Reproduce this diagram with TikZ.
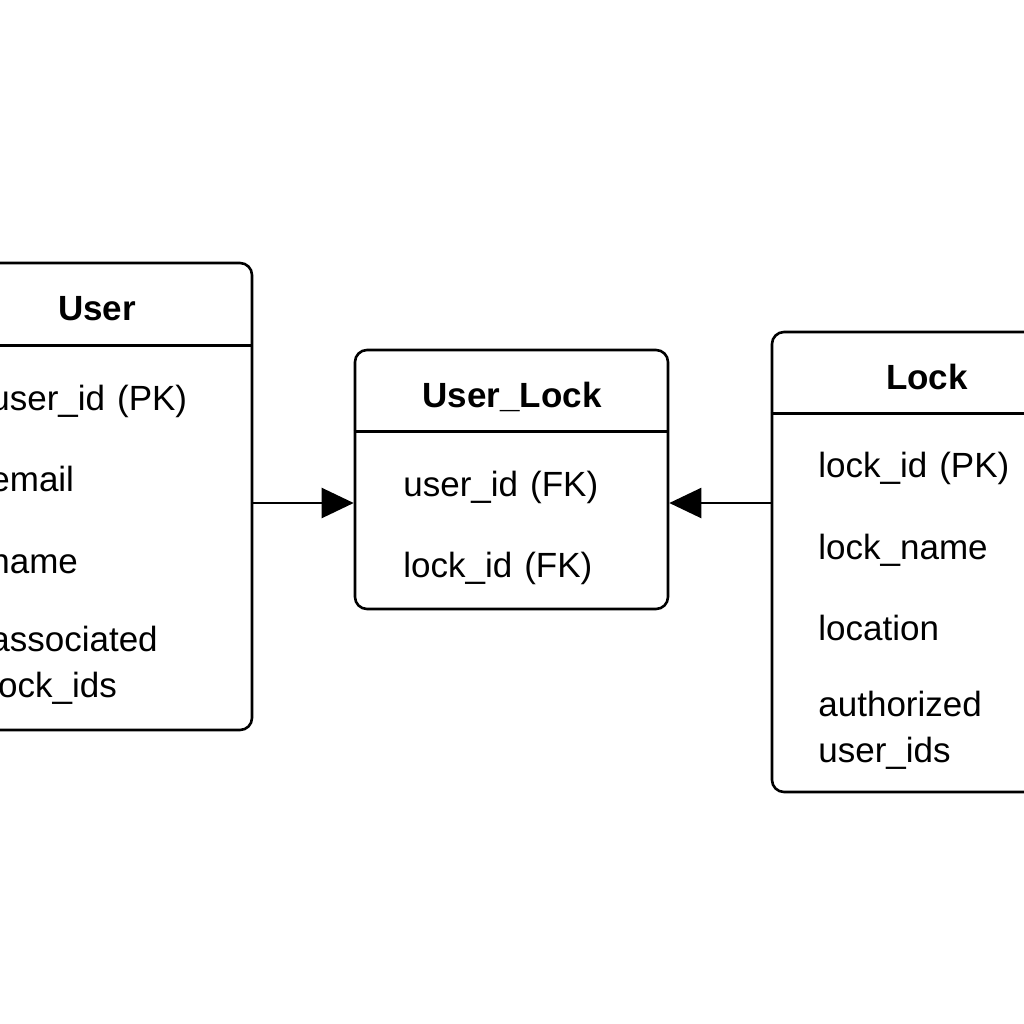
\documentclass[tikz,border=0pt]{standalone}
\usepackage{fontspec}
\setmainfont{Liberation Sans}
\usetikzlibrary{arrows.meta}

\tikzset{
	entity/.style={draw,line width=1.3pt,rounded corners=6pt,inner sep=0pt},
	title/.style={font=\bfseries\fontsize{17.5pt}{21pt}\selectfont,inner sep=0pt,anchor=base},
	field/.style={font=\fontsize{17.5pt}{23pt}\selectfont,inner sep=0pt,anchor=base west,align=left},
	link/.style={line width=1.1pt,-{Triangle[length=16pt,width=15pt]}}
}

\begin{document}
\begin{tikzpicture}[x=0.5pt,y=-0.5pt]
	\useasboundingbox (0,0) rectangle (1024,1024);
	\clip (0,0) rectangle (1024,1024);
	% boxes
	\node[entity,minimum width=155pt,minimum height=233.5pt] (user) at (97,496.5){};
	\node[entity,minimum width=156.5pt,minimum height=129.5pt] (userlock) at (511.5,479.5){};
	\node[entity,minimum width=155pt,minimum height=230pt] (lock) at (927,562){};
	\draw[line width=1.3pt] ([yshift=-42pt]user.north west) -- ([yshift=-42pt]user.north east);
	\draw[line width=1.3pt] ([yshift=-41.5pt]userlock.north west) -- ([yshift=-41.5pt]userlock.north east);
	\draw[line width=1.3pt] ([yshift=-41.5pt]lock.north west) -- ([yshift=-41.5pt]lock.north east);
	% titles
	\node[title] (usert) at (97,320){User};
	\node[title] (userlockt) at (512,407){User\_Lock};
	\node[title] (lockt) at (927,389){Lock};
	% fields (multi-line ones sit on their last line)
	\node[field] (u1) at (-10,410){user\_id\hspace{6pt}(PK)};
	\node[field] (u2) at (-10,491){email};
	\node[field] (u3) at (-10,573){name};
	\node[field] (u4) at (-10,697){associated\\lock\_ids};
	\node[field] (ul1) at (403,496){user\_id\hspace{6pt}(FK)};
	\node[field] (ul2) at (403,577){lock\_id\hspace{6pt}(FK)};
	\node[field] (l1) at (818,477){lock\_id\hspace{6pt}(PK)};
	\node[field] (l2) at (818,559){lock\_name};
	\node[field] (l3) at (818,640){location};
	\node[field] (l4) at (818,762){authorized\\user\_ids};
	% links
	\draw[link] (user.east |- 0,503) -- (userlock.west |- 0,503);
	\draw[link] (lock.west |- 0,503) -- (userlock.east |- 0,503);
\end{tikzpicture}
\end{document}
